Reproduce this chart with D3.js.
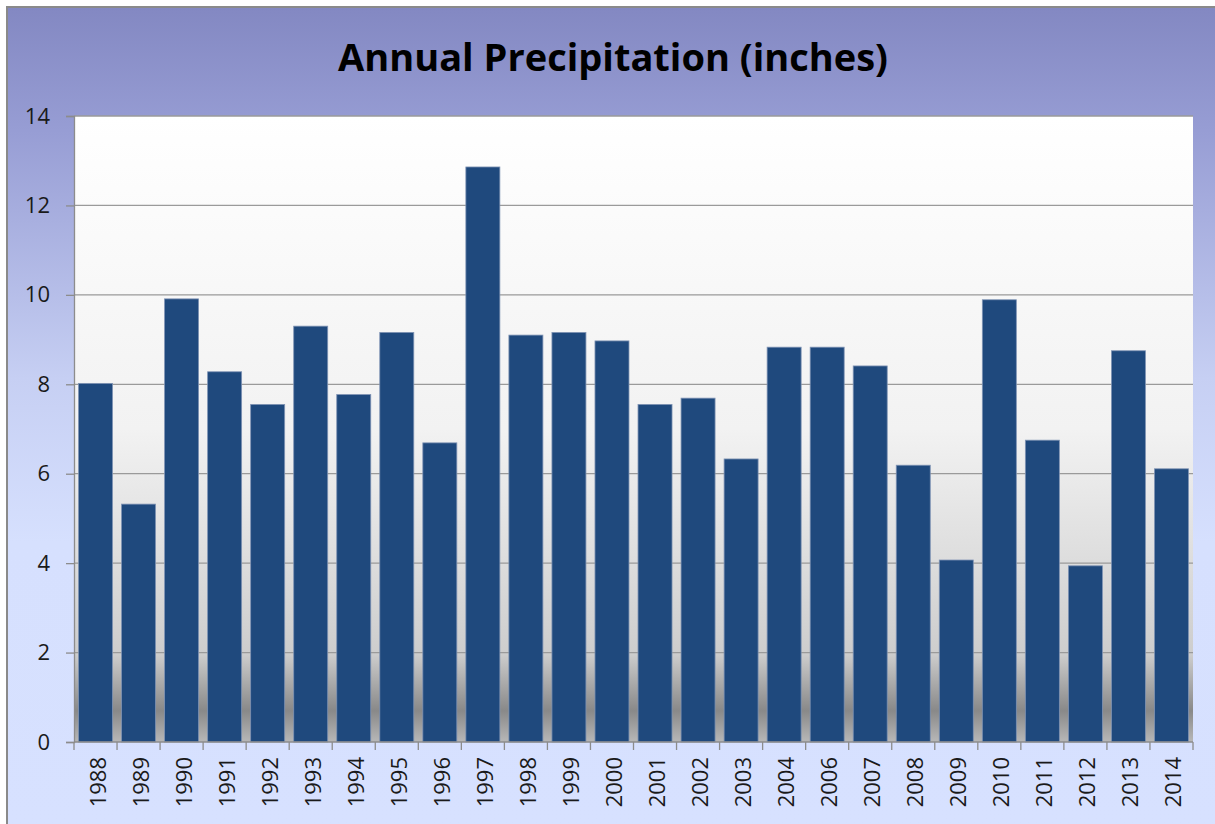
<!DOCTYPE html>
<html>
<head>
<meta charset="utf-8">
<script src="https://cdn.jsdelivr.net/npm/d3@7"></script>
<style>
  body { margin: 0; background: #fff; }
  svg { display: block; }
</style>
</head>
<body>
<div class="container"></div>
<script>
var years = ["1988","1989","1990","1991","1992","1993","1994","1995","1996","1997",
             "1998","1999","2000","2001","2002","2003","2004","2006","2007","2008",
             "2009","2010","2011","2012","2013","2014"];
var precip = [8.02, 5.32, 9.91, 8.28, 7.55, 9.30, 7.77, 9.16, 6.69, 12.86,
              9.10, 9.16, 8.97, 7.55, 7.69, 6.33, 8.83, 8.83, 8.41, 6.19,
              4.07, 9.89, 6.75, 3.94, 8.75, 6.11];
var yTicks = [0, 2, 4, 6, 8, 10, 12, 14];

var width = 1215,
    height = 824,
    margin = {top: 116, right: 22, bottom: 82, left: 74};

var svg = d3.select("div.container").append("svg")
    .attr("width", width)
    .attr("height", height);

var defs = svg.append("defs");

// outer chart background
var bg = defs.append("linearGradient")
    .attr("id", "bg").attr("x1", 0).attr("y1", 0).attr("x2", 0).attr("y2", 1);
bg.append("stop").attr("offset", "0").attr("stop-color", "#8388c2");
bg.append("stop").attr("offset", "0.15").attr("stop-color", "#979dd4");
bg.append("stop").attr("offset", "0.45").attr("stop-color", "#c6cff3");
bg.append("stop").attr("offset", "0.65").attr("stop-color", "#d6e0fe");
bg.append("stop").attr("offset", "1").attr("stop-color", "#d7e1ff");

// plot area background
var pg = defs.append("linearGradient")
    .attr("id", "plotbg").attr("x1", 0).attr("y1", 0).attr("x2", 0).attr("y2", 1);
pg.append("stop").attr("offset", "0").attr("stop-color", "#ffffff");
pg.append("stop").attr("offset", "0.5").attr("stop-color", "#f2f2f2");
pg.append("stop").attr("offset", "0.7").attr("stop-color", "#dedede");
pg.append("stop").attr("offset", "0.86").attr("stop-color", "#cdcdcd");
pg.append("stop").attr("offset", "0.95").attr("stop-color", "#898989");
pg.append("stop").attr("offset", "1").attr("stop-color", "#b8b8b8");

svg.append("rect")
    .attr("x", 7).attr("y", 7)
    .attr("width", width).attr("height", height)
    .attr("fill", "url(#bg)")
    .attr("stroke", "#8a8a8a")
    .attr("stroke-width", 2);

var plotW = width - margin.left - margin.right,
    plotH = height - margin.top - margin.bottom;

var g = svg.append("g")
    .attr("transform", "translate(" + margin.left + "," + margin.top + ")");

var x = d3.scaleBand()
    .domain(years)
    .range([0, plotW])
    .paddingInner(0.21)
    .paddingOuter(0.105);

var y = d3.scaleLinear()
    .domain([0, 14])
    .range([plotH, 0]);

g.append("rect")
    .attr("width", plotW).attr("height", plotH)
    .attr("fill", "url(#plotbg)");

// gridlines
g.selectAll(".grid")
    .data(yTicks.filter(function(d) { return d > 0; }))
    .enter().append("line")
    .attr("class", "grid")
    .attr("x1", 0).attr("x2", plotW)
    .attr("y1", function(d) { return y(d); })
    .attr("y2", function(d) { return y(d); })
    .attr("stroke", "#9a9a9a")
    .attr("stroke-width", 1.3);

// bars
g.selectAll(".bar")
    .data(precip)
    .enter().append("rect")
    .attr("class", "bar")
    .attr("x", function(d, i) { return x(years[i]); })
    .attr("y", function(d) { return y(d); })
    .attr("width", x.bandwidth())
    .attr("height", function(d) { return plotH - y(d); })
    .attr("fill", "#1f497d")
    .attr("stroke", "#7f93b4")
    .attr("stroke-width", 0.8);

// y axis
var yAxis = g.append("g")
    .call(d3.axisLeft(y).tickValues(yTicks).tickSize(8).tickPadding(16));
yAxis.select(".domain").attr("stroke", "#8c8c8c").attr("stroke-width", 1.3);
yAxis.selectAll(".tick line").attr("stroke", "#8c8c8c").attr("stroke-width", 1.3);
yAxis.selectAll("text")
    .attr("fill", "#1a1a1a")
    .style("font-family", "'Open Sans', sans-serif")
    .style("font-size", "22px");

// x axis: ticks on the category boundaries
var step = x.step();
var xAxis = g.append("g")
    .attr("transform", "translate(0," + plotH + ")");
xAxis.append("line")
    .attr("x1", 0).attr("x2", plotW)
    .attr("stroke", "#8c8c8c").attr("stroke-width", 1.3);
xAxis.selectAll(".xtick")
    .data(d3.range(years.length + 1))
    .enter().append("line")
    .attr("class", "xtick")
    .attr("x1", function(i) { return i * step; })
    .attr("x2", function(i) { return i * step; })
    .attr("y1", 0).attr("y2", 8)
    .attr("stroke", "#8c8c8c").attr("stroke-width", 1.3);
xAxis.selectAll(".xlab")
    .data(years)
    .enter().append("text")
    .attr("class", "xlab")
    .attr("transform", function(d) {
        return "translate(" + (x(d) + x.bandwidth() / 2 + 10) + ",15) rotate(-90)";
    })
    .attr("text-anchor", "end")
    .attr("fill", "#1a1a1a")
    .style("font-family", "'Open Sans', sans-serif")
    .style("font-size", "22px")
    .text(function(d) { return d; });

// title
svg.append("text")
    .attr("x", 613)
    .attr("y", 71)
    .attr("text-anchor", "middle")
    .attr("fill", "#000")
    .style("font-family", "'Open Sans', sans-serif")
    .style("font-weight", "bold")
    .style("font-size", "38px")
    .text("Annual Precipitation (inches)");
</script>
</body>
</html>
